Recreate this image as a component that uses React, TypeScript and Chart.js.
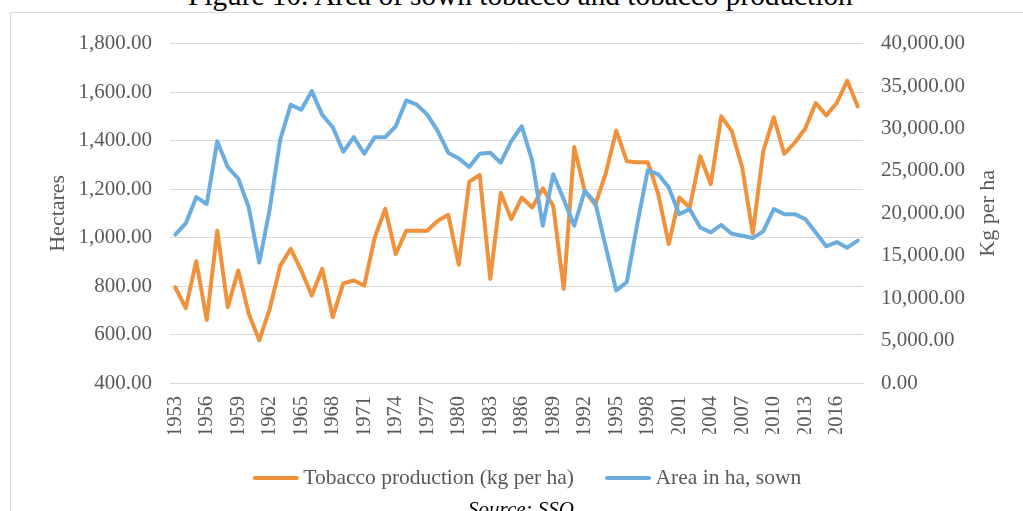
import React, { useEffect, useRef } from "react";
import { Chart, registerables } from "chart.js";

Chart.register(...registerables);

const years = [
  "1953", "1954", "1955", "1956", "1957", "1958", "1959", "1960", "1961", "1962",
  "1963", "1964", "1965", "1966", "1967", "1968", "1969", "1970", "1971", "1972",
  "1973", "1974", "1975", "1976", "1977", "1978", "1979", "1980", "1981", "1982",
  "1983", "1984", "1985", "1986", "1987", "1988", "1989", "1990", "1991", "1992",
  "1993", "1994", "1995", "1996", "1997", "1998", "1999", "2000", "2001", "2002",
  "2003", "2004", "2005", "2006", "2007", "2008", "2009", "2010", "2011", "2012",
  "2013", "2014", "2015", "2016", "2017", "2018",
];

const xTickLabels = [
  "1953", "1956", "1959", "1962", "1965", "1968", "1971", "1974", "1977", "1980", "1983",
  "1986", "1989", "1992", "1995", "1998", "2001", "2004", "2007", "2010", "2013", "2016",
];

// Tobacco production (kg per ha) – left axis
const tobaccoProduction = [
  795, 709, 902, 660, 1028, 713, 864, 686, 576, 706,
  884, 953, 864, 761, 871, 672, 811, 823, 802, 1000,
  1119, 932, 1028, 1028, 1028, 1069, 1094, 888, 1230, 1258,
  829, 1185, 1076, 1165, 1124, 1203, 1130, 788, 1373, 1192,
  1135, 1265, 1441, 1315, 1311, 1311, 1179, 973, 1165, 1124,
  1336, 1220, 1500, 1439, 1288, 1017, 1356, 1496, 1345, 1391,
  1450, 1555, 1504, 1555, 1647, 1541,
];

// Area in ha, sown – right axis
const areaSown = [
  17500, 18800, 21900, 21100, 28500, 25450, 24100, 20700, 14200, 20500,
  28700, 32800, 32200, 34400, 31600, 30150, 27250, 28970, 27020, 28970,
  28970, 30260, 33300, 32810, 31630, 29680, 27140, 26470, 25450, 27020,
  27140, 25960, 28500, 30260, 26160, 18530, 24600, 21620, 18530, 22640,
  21270, 16030, 10910, 11880, 18730, 25070, 24600, 23030, 19900, 20490,
  18330, 17750, 18630, 17600, 17360, 17090, 17870, 20490, 19900, 19900,
  19320, 17750, 16110, 16620, 15950, 16770,
];

const leftTicks = [400, 600, 800, 1000, 1200, 1400, 1600, 1800];
const rightTicks = [0, 5000, 10000, 15000, 20000, 25000, 30000, 35000, 40000];

const seriesLabels = ["Tobacco production (kg per ha)", "Area in ha, sown"];
const titleText = "Figure 10. Area of sown tobacco and tobacco production";
const sourceText = "Source: SSO";
const leftAxisTitle = "Hectares";
const rightAxisTitle = "Kg per ha";

const ORANGE = "#F0913B";
const BLUE = "#6AADDE";
const GRID = "#D9D9D9";
const TEXT = "#595959";
const FONT = '"Liberation Serif", "Times New Roman", serif';

const CANVAS_W = 1000;
const CANVAS_H = 498;
const PAD_LEFT = 44;
const PLOT_LEFT = 159;
const PLOT_RIGHT = 852;

const fmt = (v: number) =>
  Number(v).toLocaleString("en-US", { minimumFractionDigits: 2, maximumFractionDigits: 2 });

const rightTitlePlugin = {
  id: "rightTitle",
  afterDraw(chart: any) {
    const { ctx, chartArea } = chart;
    ctx.save();
    ctx.font = `22px ${FONT}`;
    ctx.fillStyle = TEXT;
    ctx.translate(977, (chartArea.top + chartArea.bottom) / 2);
    ctx.rotate(-Math.PI / 2);
    ctx.textAlign = "center";
    ctx.textBaseline = "middle";
    ctx.fillText(rightAxisTitle, 0, 0);
    ctx.restore();
  },
};

const legendPlugin = {
  id: "bottomLegend",
  afterDraw(chart: any) {
    const ctx = chart.ctx;
    const ds = chart.data.datasets;
    const LINE = 46;
    const CAP = 2;
    const GAP = 4.5;
    const ITEM_GAP = 31;
    const centerX = 516;
    const y = 465;
    ctx.save();
    ctx.font = `21.5px ${FONT}`;
    const widths = ds.map((d: any) => LINE + GAP + ctx.measureText(d.label).width);
    const total = widths.reduce((a: number, b: number) => a + b, 0) + ITEM_GAP * (ds.length - 1);
    let x = centerX - total / 2;
    ds.forEach((d: any, i: number) => {
      ctx.strokeStyle = d.borderColor;
      ctx.lineWidth = 4;
      ctx.lineCap = "round";
      ctx.beginPath();
      ctx.moveTo(x + CAP, y);
      ctx.lineTo(x + LINE - CAP, y);
      ctx.stroke();
      ctx.fillStyle = TEXT;
      ctx.textBaseline = "middle";
      ctx.textAlign = "left";
      ctx.fillText(d.label, x + LINE + GAP, y);
      x += widths[i] + ITEM_GAP;
    });
    ctx.restore();
  },
};

export default function App() {
  const ref = useRef<HTMLCanvasElement>(null);

  useEffect(() => {
    if (!ref.current) return;
    const chart = new Chart(ref.current, {
      type: "line",
      data: {
        labels: years,
        datasets: [
          {
            label: seriesLabels[0],
            data: tobaccoProduction,
            yAxisID: "y",
            borderColor: ORANGE,
            backgroundColor: ORANGE,
            borderWidth: 4,
            pointRadius: 0,
            tension: 0,
            borderJoinStyle: "round",
            borderCapStyle: "round",
            order: 1,
          },
          {
            label: seriesLabels[1],
            data: areaSown,
            yAxisID: "y1",
            borderColor: BLUE,
            backgroundColor: BLUE,
            borderWidth: 4,
            pointRadius: 0,
            tension: 0,
            borderJoinStyle: "round",
            borderCapStyle: "round",
            order: 0,
          },
        ],
      },
      options: {
        responsive: false,
        animation: false,
        devicePixelRatio: 1,
        layout: { padding: { left: PAD_LEFT, right: 0, top: 29, bottom: 77.1 } },
        plugins: {
          tooltip: { enabled: false },
          legend: { display: false },
        },
        scales: {
          x: {
            type: "category",
            offset: true,
            grid: { display: false, drawTicks: false },
            border: { display: true, color: GRID, width: 1 },
            ticks: {
              autoSkip: false,
              minRotation: 90,
              maxRotation: 90,
              padding: 13,
              color: TEXT,
              font: { family: FONT, size: 20.5 },
              callback: function (this: any, _v: any, index: number) {
                const lab = years[index];
                return xTickLabels.includes(lab) ? lab : "";
              },
            },
            afterFit: (s: any) => {
              s.height = 50.9;
            },
          },
          y: {
            position: "left",
            min: leftTicks[0],
            max: leftTicks[leftTicks.length - 1],
            grid: { color: GRID, lineWidth: 1, drawTicks: false },
            border: { display: false },
            ticks: {
              stepSize: leftTicks[1] - leftTicks[0],
              padding: 18,
              color: TEXT,
              font: { family: FONT, size: 21 },
              callback: (v: any) => fmt(v),
            },
            title: {
              display: true,
              text: leftAxisTitle,
              color: TEXT,
              font: { family: FONT, size: 22, lineHeight: 1 },
              padding: { top: -8, bottom: 0 },
            },
            afterFit: (s: any) => {
              s.width = PLOT_LEFT - PAD_LEFT;
            },
          },
          y1: {
            position: "right",
            min: rightTicks[0],
            max: rightTicks[rightTicks.length - 1],
            grid: { display: false, drawTicks: false },
            border: { display: false },
            ticks: {
              stepSize: rightTicks[1] - rightTicks[0],
              padding: 18,
              color: TEXT,
              font: { family: FONT, size: 21 },
              callback: (v: any) => fmt(v),
            },
            afterFit: (s: any) => {
              s.width = CANVAS_W - PLOT_RIGHT;
            },
          },
        },
      } as any,
      plugins: [rightTitlePlugin, legendPlugin],
    });
    return () => chart.destroy();
  }, []);

  return (
    <div
      style={{
        position: "relative",
        width: 1023,
        height: 511,
        overflow: "hidden",
        background: "#fff",
        fontFamily: FONT,
      }}
    >
      <style>{"body{margin:0;}"}</style>
      <div
        style={{
          position: "absolute",
          left: 188,
          top: -19,
          fontSize: 29.3,
          lineHeight: "29px",
          whiteSpace: "nowrap",
          color: "#000",
        }}
      >
        {titleText}
      </div>
      <div
        style={{
          position: "absolute",
          left: 10,
          top: 12,
          width: 1040,
          height: 540,
          border: `1px solid ${GRID}`,
          boxSizing: "border-box",
        }}
      />
      <canvas
        ref={ref}
        width={CANVAS_W}
        height={CANVAS_H}
        style={{ position: "absolute", left: 11, top: 13, width: CANVAS_W, height: CANVAS_H }}
      />
      <div
        style={{
          position: "absolute",
          left: 468,
          top: 499,
          fontSize: 21,
          lineHeight: "21px",
          fontStyle: "italic",
          whiteSpace: "nowrap",
          color: "#000",
        }}
      >
        {sourceText}
      </div>
    </div>
  );
}
